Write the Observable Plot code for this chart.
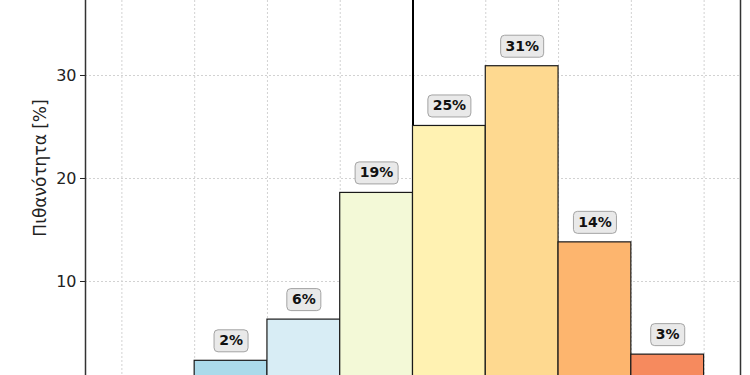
<!DOCTYPE html>
<html>
<head>
<meta charset="utf-8">
<script src="https://cdn.jsdelivr.net/npm/d3@7"></script>
<script src="https://cdn.jsdelivr.net/npm/@observablehq/plot@0.6"></script>
<style>
  html, body { margin: 0; padding: 0; background: #fff; overflow: hidden; }
  #chart { width: 750px; height: 375px; }
</style>
</head>
<body>
<div id="chart"></div>
<script>
// ---- data ----
const binEdges = [1, 2, 3, 4, 5, 6, 7, 8];
const probabilities = [2.3, 6.3, 18.6, 25.1, 30.9, 13.8, 2.9];
const valueLabels = ["2%", "6%", "19%", "25%", "31%", "14%", "3%"];
const xTicks = [0, 1, 2, 3, 4, 5, 6, 7, 8];
const yTicks = [10, 20, 30];
const markerX = [4];
const yTitle = "Πιθανότητα [%]";

// table built from the arrays
const bars = probabilities.map((p, i) => ({
  x1: binEdges[i],
  x2: binEdges[i + 1],
  mid: (binEdges[i] + binEdges[i + 1]) / 2,
  p,
  label: valueLabels[i]
}));

// styling
const palette = ["#abdaea", "#d8edf5", "#f3f9d7", "#fff2b2", "#fed990", "#fdb56e", "#f68a5e"];
function roundBox(w, h, r) {
  return {
    draw(ctx) {
      const x0 = -w / 2, x1 = w / 2, y0 = -h / 2, y1 = h / 2;
      ctx.moveTo(x0 + r, y0);
      ctx.lineTo(x1 - r, y0);
      ctx.arcTo(x1, y0, x1, y0 + r, r);
      ctx.lineTo(x1, y1 - r);
      ctx.arcTo(x1, y1, x1 - r, y1, r);
      ctx.lineTo(x0 + r, y1);
      ctx.arcTo(x0, y1, x0, y1 - r, r);
      ctx.lineTo(x0, y0 + r);
      ctx.arcTo(x0, y0, x0 + r, y0, r);
      ctx.closePath();
    }
  };
}
const boxStyle = {fill: "#e9e9e9", stroke: "#a3a3a3", strokeWidth: 1, dy: -20};

const chart = Plot.plot({
  width: 750,
  height: 375,
  marginLeft: 85,
  marginRight: 10,
  marginTop: 0,
  marginBottom: 0,
  style: {fontFamily: "DejaVu Sans", fontSize: "16px", color: "#222", background: "#fff"},
  x: {domain: [-0.5, 8.5], axis: null},
  y: {domain: [0, 41.94], range: [384, -48], axis: null},
  color: {type: "ordinal", domain: valueLabels, range: palette},
  marks: [
    Plot.gridX(xTicks, {stroke: "#d2d2d2", strokeOpacity: 1, strokeDasharray: "2,2", strokeWidth: 1}),
    Plot.gridY(yTicks, {stroke: "#d2d2d2", strokeOpacity: 1, strokeDasharray: "2,2", strokeWidth: 1}),
    Plot.ruleX(markerX, {stroke: "#000", strokeWidth: 2}),
    Plot.rect(bars, {x1: "x1", x2: "x2", y1: 0, y2: "p", fill: "label", stroke: "#1a1a1a", strokeWidth: 1.2}),
    Plot.dot(bars.filter(d => d.label.length < 3), {x: "mid", y: "p", symbol: roundBox(34, 22, 4), r: 10, ...boxStyle}),
    Plot.dot(bars.filter(d => d.label.length >= 3), {x: "mid", y: "p", symbol: roundBox(43, 22, 4), r: 10, ...boxStyle}),
    Plot.text(bars, {x: "mid", y: "p", text: "label", dy: -20, fontWeight: "bold", fontSize: 14, fill: "#111"}),
    Plot.axisY(yTicks, {
      anchor: "left",
      tickSize: 5,
      tickPadding: 4,
      stroke: "#222",
      fontSize: 16,
      label: null
    }),
    Plot.text([yTitle], {
      frameAnchor: "left",
      rotate: -90,
      dx: -45,
      dy: -20,
      fontSize: 17,
      fill: "#222",
      textAnchor: "middle"
    }),
    Plot.ruleX([-0.5, 8.5], {stroke: "#333", strokeWidth: 1.5})
  ]
});
document.getElementById("chart").appendChild(chart);
</script>
</body>
</html>
